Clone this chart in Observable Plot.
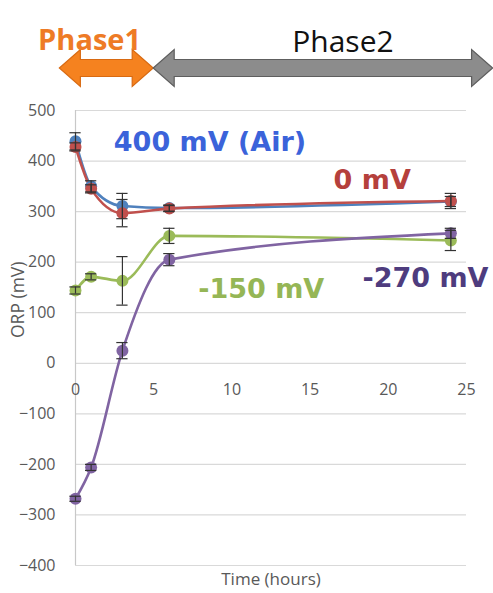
<!DOCTYPE html>
<html>
<head>
<meta charset="utf-8">
<script src="https://cdn.jsdelivr.net/npm/d3@7"></script>
<script src="https://cdn.jsdelivr.net/npm/@observablehq/plot@0.6"></script>
<style>
  html, body { margin: 0; padding: 0; background: #fff; }
  #chart { width: 493px; height: 593px; }
</style>
</head>
<body>
<div id="chart"></div>
<script>
// ---- data ----
const times = [0, 1, 3, 6, 24];
const seriesNames = ["400 mV (Air)", "0 mV", "-150 mV", "-270 mV"];
const airValues = [439, 350, 311, 307, 320];
const zeroValues = [428, 345, 297, 306, 321];
const minus150Values = [144, 171, 163, 252, 243];
const minus270Values = [-268, -206, 25, 205, 257];
const airErrors = [17, 11, 25, 6, 10];
const zeroErrors = [8, 8, 27, 6, 15];
const minus150Errors = [7, 6, 48, 15, 20];
const minus270Errors = [5, 6, 16, 12, 10];
const xTicks = [0, 5, 10, 15, 20, 25];
const yTicks = [-400, -300, -200, -100, 0, 100, 200, 300, 400, 500];
// annotation anchors (data units)
const labelX = [2.45, 16.5, 7.85, 18.35];
const labelY = [437, 362, 147, 167];
const phaseNames = ["Phase1", "Phase2"];
const phaseStart = [-1, 5];
const phaseEnd = [5, 26.7];
const phaseLabelX = [0.9, 17.1];

// ---- styles ----
const lineColors = ["#4F81BD", "#C0504D", "#9BBB59", "#8064A2"];
const labelColors = ["#3B63DA", "#B5403C", "#95B656", "#4E3C7E"];
const phaseFill = ["#F5821F", "#8C8C8C"];
const phaseStroke = ["#D86A12", "#5E5E5E"];

const valuesBySeries = [airValues, zeroValues, minus150Values, minus270Values];
const errorsBySeries = [airErrors, zeroErrors, minus150Errors, minus270Errors];
const rows = [];
seriesNames.forEach((s, i) => times.forEach((t, j) => rows.push({
  series: s, order: i, t, v: valuesBySeries[i][j], e: errorsBySeries[i][j]
})));
const labels = seriesNames.map((s, i) => ({series: s, x: labelX[i], y: labelY[i], color: labelColors[i]}));
const phases = phaseNames.map((p, i) => ({name: p, start: phaseStart[i], end: phaseEnd[i], labelX: phaseLabelX[i], i}));

function phaseArrows(index, scales) {
  const g = d3.create("svg:g");
  const cy = 68, bh = 8.5, hh = 18.5, hl = 21;
  phases.forEach(p => {
    const x1 = scales.x(p.start), x2 = scales.x(p.end);
    const pts = [[x1, cy], [x1 + hl, cy - hh], [x1 + hl, cy - bh], [x2 - hl, cy - bh], [x2 - hl, cy - hh],
      [x2, cy], [x2 - hl, cy + hh], [x2 - hl, cy + bh], [x1 + hl, cy + bh], [x1 + hl, cy + hh]];
    g.append("path")
      .attr("d", "M" + pts.map(q => q.join(",")).join("L") + "Z")
      .attr("fill", phaseFill[p.i])
      .attr("stroke", phaseStroke[p.i])
      .attr("stroke-width", 1.2);
  });
  return g.node();
}

const chart = Plot.plot({
  width: 493,
  height: 593,
  marginLeft: 75,
  marginRight: 27,
  marginTop: 110,
  marginBottom: 28,
  style: {fontFamily: "'Open Sans', sans-serif", fontSize: "16px", color: "#595959", background: "#fff", overflow: "visible"},
  x: {domain: [0, 25], axis: null},
  y: {domain: [-400, 500], axis: null},
  color: {domain: seriesNames, range: lineColors},
  marks: [
    Plot.gridY(yTicks, {stroke: "#D9D9D9", strokeOpacity: 1, strokeWidth: 1.2}),
    Plot.ruleX([0], {stroke: "#C8C8C8", strokeWidth: 1.2}),
    Plot.axisY(yTicks, {tickSize: 0, tickPadding: 20, label: null, fontSize: 16, fill: "#595959"}),
    Plot.text(xTicks, {x: d => d, y: 0, dy: 27, text: d => String(d), fill: "#595959", fontSize: 16}),
    Plot.text(["ORP (mV)"], {frameAnchor: "left", dx: -57, rotate: -90, fill: "#595959", fontSize: 17.5}),
    Plot.text(["Time (hours)"], {frameAnchor: "bottom", dy: 19, fill: "#595959", fontSize: 17}),
    Plot.line(rows, {x: "t", y: "v", z: "series", stroke: "series", curve: "monotone-x", strokeWidth: 2.6}),
    Plot.dot(rows, {x: "t", y: "v", fill: "series", r: 6}),
    Plot.ruleX(rows, {x: "t", y1: d => d.v - d.e, y2: d => d.v + d.e, stroke: "#333333", strokeWidth: 1.2}),
    Plot.ruleY(rows, {y: d => d.v + d.e, x1: d => d.t - 0.36, x2: d => d.t + 0.36, stroke: "#333333", strokeWidth: 1.2}),
    Plot.ruleY(rows, {y: d => d.v - d.e, x1: d => d.t - 0.36, x2: d => d.t + 0.36, stroke: "#333333", strokeWidth: 1.2}),
    Plot.text(labels, {x: "x", y: "y", text: "series", fill: "color", textAnchor: "start",
      fontFamily: "'DejaVu Sans', sans-serif", fontWeight: "bold", fontSize: 27}),
    phaseArrows,
    Plot.text(phases.filter(p => p.i === 0), {x: "labelX", frameAnchor: "top", dy: -81, text: "name",
      fill: "#EE7B26", fontWeight: "bold", fontSize: 29}),
    Plot.text(phases.filter(p => p.i === 1), {x: "labelX", frameAnchor: "top", dy: -80, text: "name",
      fill: "#111111", fontWeight: "normal", fontSize: 30})
  ]
});
document.getElementById("chart").appendChild(chart);
</script>
</body>
</html>
